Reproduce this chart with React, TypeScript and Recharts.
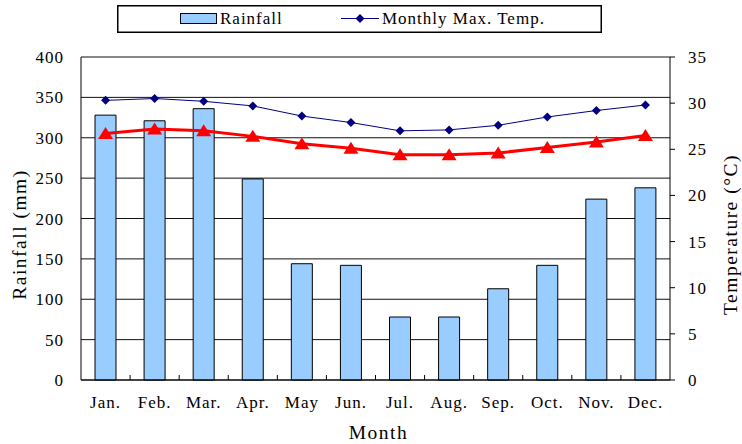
import React from 'react';
import { ComposedChart, Bar, Line, XAxis, YAxis, CartesianGrid, Legend } from 'recharts';

const months = ['Jan.', 'Feb.', 'Mar.', 'Apr.', 'May', 'Jun.', 'Jul.', 'Aug.', 'Sep.', 'Oct.', 'Nov.', 'Dec.'];
const rainfall = [328, 321, 336, 249, 144, 142, 78, 78, 113, 142, 224, 238];
const maxTemp = [30.3, 30.5, 30.2, 29.7, 28.6, 27.9, 27.0, 27.1, 27.6, 28.5, 29.2, 29.8];
const meanTemp = [26.7, 27.2, 27.0, 26.4, 25.6, 25.1, 24.4, 24.4, 24.6, 25.2, 25.8, 26.5];
const rainTicks = [0, 50, 100, 150, 200, 250, 300, 350, 400];
const tempTicks = [0, 5, 10, 15, 20, 25, 30, 35];

const data = months.map((month, i) => ({
  month,
  rainfall: rainfall[i],
  maxTemp: maxTemp[i],
  meanTemp: meanTemp[i],
}));

const FONT = '"Liberation Serif", "Times New Roman", serif';
const tickStyle = { fontFamily: FONT, fontSize: 17, letterSpacing: 1, fill: '#000' };
const labelStyle = { fontFamily: FONT, fontSize: 19.5, letterSpacing: 1.5, fill: '#000' };

const Diamond = (props: any) => {
  const { cx, cy } = props;
  if (cx == null || cy == null) return null;
  const r = 4.5;
  return <polygon points={`${cx},${cy - r} ${cx + r},${cy} ${cx},${cy + r} ${cx - r},${cy}`} fill="#000080" />;
};

const Triangle = (props: any) => {
  const { cx, cy } = props;
  if (cx == null || cy == null) return null;
  return <polygon points={`${cx},${cy - 6.5} ${cx + 7.5},${cy + 5.5} ${cx - 7.5},${cy + 5.5}`} fill="#FF0000" />;
};

const MonthTick = (props: any) => {
  const { x, y, payload, index } = props;
  const half = payload.offset || 0;
  return (
    <g>
      {index < months.length - 1 && (
        <line x1={x + half} x2={x + half} y1={y} y2={y - 5} stroke="#000" />
      )}
      <text x={x} y={y + 28} textAnchor="middle" style={tickStyle}>{payload.value}</text>
    </g>
  );
};

const sideLabel = (text: React.ReactNode, fromLeft: number) => (props: any) => {
  const { viewBox } = props;
  const cx = viewBox.x + fromLeft;
  const cy = viewBox.y + viewBox.height / 2 + 16;
  return (
    <text x={cx} y={cy} transform={`rotate(-90 ${cx} ${cy})`} textAnchor="middle" dominantBaseline="middle" style={labelStyle}>
      {text}
    </text>
  );
};

const monthLabel = (props: any) => {
  const { viewBox } = props;
  return (
    <text x={viewBox.x + viewBox.width / 2 + 3} y={viewBox.y + 59} textAnchor="middle" style={labelStyle}>
      Month
    </text>
  );
};

const LegendBox = () => (
  <svg width={485} height={28} style={{ display: 'block' }}>
    <rect x={0.75} y={0.75} width={483.5} height={26.5} fill="#fff" stroke="#000" strokeWidth={1.5} />
    <rect x={63.5} y={8.5} width={36} height={10} fill="#99CCFF" stroke="#000" />
    <text x={103} y={19} style={tickStyle}>Rainfall</text>
    <line x1={224} x2={262} y1={13.5} y2={13.5} stroke="#000080" />
    <Diamond cx={243} cy={13.5} />
    <text x={265} y={19} style={tickStyle}>Monthly Max. Temp.</text>
  </svg>
);

export default function App() {
  return (
    <div style={{ position: 'absolute', left: 0, top: 0, background: '#fff' }}>
      <ComposedChart width={742} height={444} data={data} margin={{ top: 57, right: 0, bottom: 0, left: 0 }}>
        <CartesianGrid yAxisId="rain" vertical={false} stroke="#111" />
        <XAxis
          dataKey="month"
          height={64}
          axisLine={{ stroke: '#000' }}
          tickLine={false}
          tickSize={0}
          tickMargin={0}
          tick={<MonthTick />}
          interval={0}
          label={{ content: monthLabel }}
        />
        <YAxis
          yAxisId="rain"
          width={81}
          domain={[0, 400]}
          ticks={rainTicks}
          axisLine={{ stroke: '#000' }}
          tickLine={false}
          tickSize={0}
          tickMargin={17}
          tick={tickStyle}
          label={{ content: sideLabel('Rainfall (mm)', 22) }}
        />
        <YAxis
          yAxisId="temp"
          orientation="right"
          width={72}
          domain={[0, 35]}
          ticks={tempTicks}
          axisLine={{ stroke: '#000' }}
          tickLine={{ stroke: '#000' }}
          tickSize={5}
          tickMargin={13}
          tick={{ ...tickStyle, textAnchor: 'start' }}
          label={{ content: sideLabel('Temperature (°C)', 63) }}
        />
        <Legend
          verticalAlign="middle"
          layout="horizontal"
          content={<LegendBox />}
          wrapperStyle={{ top: 5, left: 117, width: 485, height: 28 }}
        />
        <Bar
          yAxisId="rain"
          dataKey="rainfall"
          name="Rainfall"
          fill="#99CCFF"
          stroke="#000"
          strokeWidth={1}
          barSize={21}
          isAnimationActive={false}
        />
        <Line
          yAxisId="temp"
          dataKey="maxTemp"
          name="Monthly Max. Temp."
          stroke="#000080"
          strokeWidth={1}
          dot={<Diamond />}
          activeDot={false}
          isAnimationActive={false}
        />
        <Line
          yAxisId="temp"
          dataKey="meanTemp"
          legendType="none"
          stroke="#FF0000"
          strokeWidth={3}
          dot={<Triangle />}
          activeDot={false}
          isAnimationActive={false}
        />
      </ComposedChart>
    </div>
  );
}
